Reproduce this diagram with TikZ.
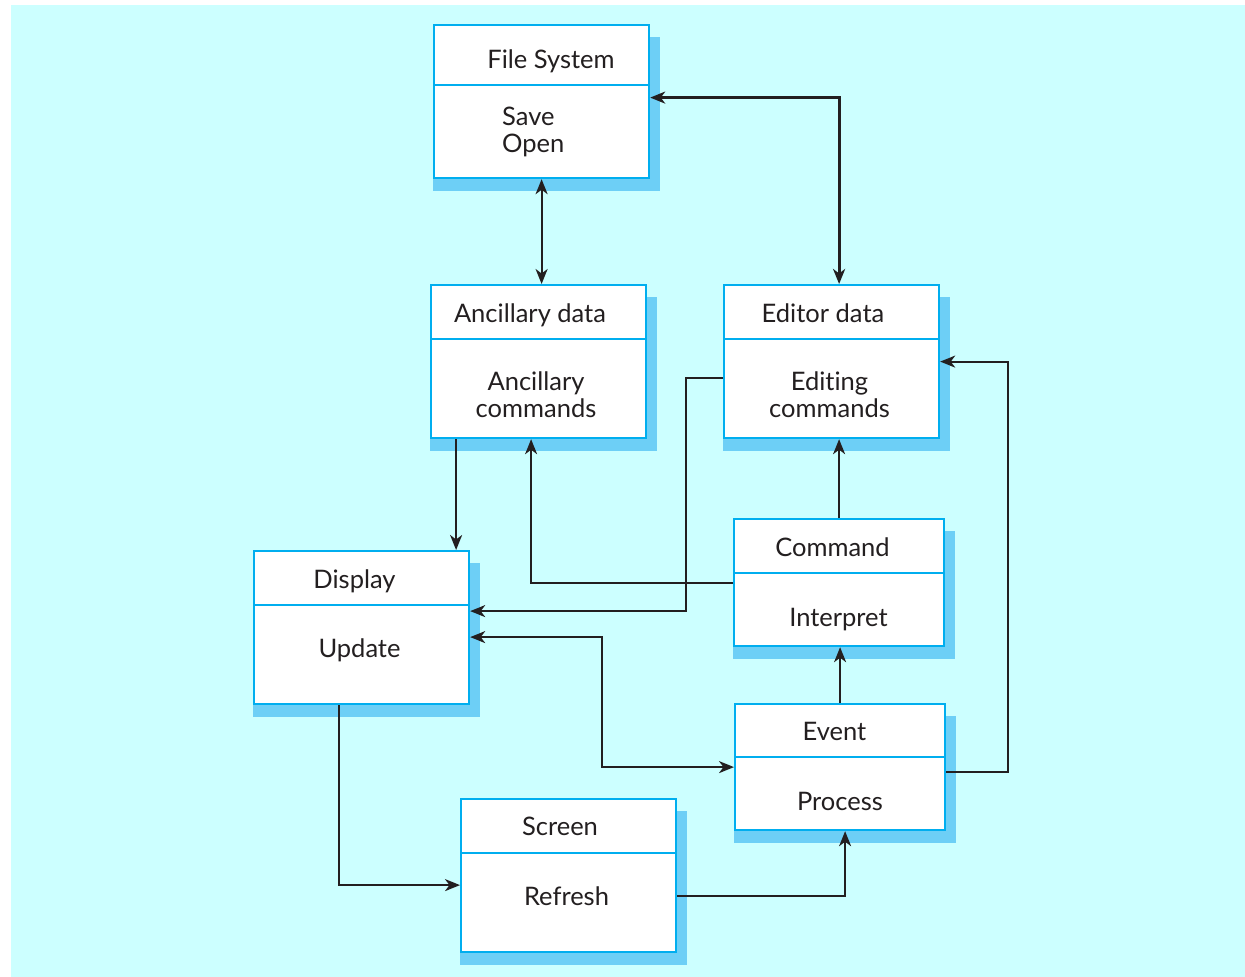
\documentclass[tikz,border=0pt]{standalone}
\usepackage{fontspec}
\setmainfont{Lato}[Ligatures={NoCommon}]
\usetikzlibrary{arrows.meta,backgrounds}
\definecolor{bgc}{HTML}{CCFFFF}
\definecolor{edgec}{HTML}{00AEEF}
\definecolor{shadec}{HTML}{6DCFF6}
\definecolor{inkc}{HTML}{231F20}
\tikzset{
  classbox/.style={draw=edgec, line width=2.2pt, fill=white, rectangle,
    inner sep=0pt, anchor=north west, minimum width=215pt, minimum height=153pt},
  divider/.style={draw=edgec, line width=2.2pt},
  lbl/.style={inner sep=0pt, anchor=base, text=inkc,
    font=\fontsize{25.5}{26.5}\selectfont, align=center},
  tip/.style={-{Stealth[length=15pt,width=12pt,inset=4.5pt]}},
  link/.style={draw=inkc, line width=2.1pt, tip},
  twoway/.style={draw=inkc, line width=2.1pt,
    {Stealth[length=15pt,width=12pt,inset=4.5pt]}-{Stealth[length=15pt,width=12pt,inset=4.5pt]}}
}
\newcommand{\boxshadow}[1]{\fill[shadec] ([yshift=-13pt]#1.north west) rectangle ([xshift=10pt,yshift=-12pt]#1.south east);}
\newcommand{\sepline}[2]{\draw[divider] ([yshift=-#2pt]#1.north west) -- ([yshift=-#2pt]#1.north east);}
\begin{document}
\begin{tikzpicture}[x=1pt,y=-1pt]
\useasboundingbox (0,0) rectangle (1245,977);

% class boxes
\node[classbox] (fs) at (433,24) {};
\node[classbox] (anc) at (430,284) {};
\node[classbox] (ed) at (723,284) {};
\node[classbox] (disp) at (253,550) {};
\node[classbox, minimum width=210pt, minimum height=127pt] (cmd) at (733,518) {};
\node[classbox, minimum width=210pt, minimum height=126pt] (ev) at (734,703) {};
\node[classbox] (scr) at (460,798) {};

\begin{scope}[on background layer]
  \fill[bgc] (11,5) rectangle (1245,977);
  \boxshadow{fs}\boxshadow{anc}\boxshadow{ed}\boxshadow{disp}
  \boxshadow{cmd}\boxshadow{ev}\boxshadow{scr}
\end{scope}

% compartment separators
\sepline{fs}{61}
\sepline{anc}{55}
\sepline{ed}{55}
\sepline{disp}{55}
\sepline{cmd}{55}
\sepline{ev}{54}
\sepline{scr}{55}

% labels (two-line labels are placed by the baseline of their last line)
\node[lbl] (fsT) at (551,68) {File System};
\node[lbl, anchor=base west, align=left] (fsB) at (502,152) {Save\\Open};
\node[lbl] (ancT) at (530,322) {Ancillary data};
\node[lbl] (ancB) at (536,417) {Ancillary\\commands};
\node[lbl] (edT) at (823,322) {Editor data};
\node[lbl] (edB) at (829.5,417) {Editing\\commands};
\node[lbl] (dispT) at (354.5,588) {Display};
\node[lbl] (dispB) at (359.5,657) {Update};
\node[lbl] (cmdT) at (832.5,556) {Command};
\node[lbl] (cmdB) at (838.5,626) {Interpret};
\node[lbl] (evT) at (834.5,740) {Event};
\node[lbl] (evB) at (840,810) {Process};
\node[lbl] (scrT) at (560,835) {Screen};
\node[lbl] (scrB) at (566.5,905) {Refresh};

% connectors
\draw[twoway] (fs.south) -- (fs.south |- anc.north);
\draw[twoway, line width=2.8pt] ([xshift=7.5pt]ed.north) |- ([yshift=4pt]fs.east);
\draw[link] ([xshift=-82.5pt]anc.south) -- ([xshift=-82.5pt]anc.south |- disp.north);
\draw[link] ([yshift=-16.5pt]ed.west) -- ++(-37,0) |- ([yshift=16.5pt]disp.east);
\draw[link] (cmd.west) -| ([xshift=-7.5pt]anc.south);
\draw[link] (cmd.north) -- (cmd.north |- ed.south);
\draw[link] (ev.north) -- (ev.north |- cmd.south);
\draw[link] ([yshift=-5pt]ev.east) -- ++(62,0) |- (ed.east);
\draw[twoway] ([yshift=-9.5pt]disp.east) -- ++(132,0) |- (ev.west);
\draw[link] ([xshift=-22.5pt]disp.south) |- ([yshift=-9.5pt]scr.west);
\draw[link] ([yshift=-20.5pt]scr.east) -| ([xshift=5pt]ev.south);
\end{tikzpicture}
\end{document}
